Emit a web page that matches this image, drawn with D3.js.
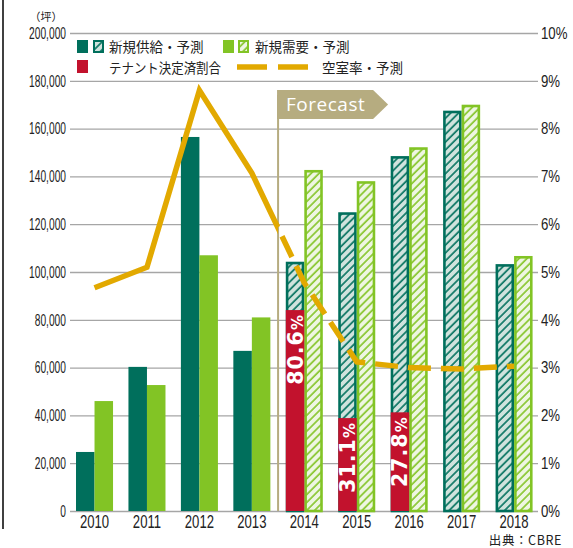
<!DOCTYPE html>
<html><head><meta charset="utf-8">
<script src="https://cdn.jsdelivr.net/npm/d3@7"></script>
<style>
html,body{margin:0;padding:0;background:#fff;}
svg{display:block;}
</style></head><body>
<svg id="chart" width="573" height="548"></svg>
<script>
// ---- data ----
const years = ["2010","2011","2012","2013","2014","2015","2016","2017","2018"];
const supply = [24700, 60300, 156500, 67000, 104300, 125000, 148500, 167500, 103300];
const demand = [46000, 52700, 107000, 81000, 142700, 138000, 152200, 170000, 106700];
const tenantShare = [null, null, null, null, 80.6, 31.1, 27.8, null, null];
const vacancy = [4.67, 5.1, 8.8, 7.07, 4.77, 3.12, 3.0, 2.97, 3.03];
const forecastStart = "2014";
const leftTicks = [0,20000,40000,60000,80000,100000,120000,140000,160000,180000,200000];
const rightTicks = [0,1,2,3,4,5,6,7,8,9,10];
const legendLabels = ["新規供給・予測","新規需要・予測","テナント決定済割合","空室率・予測"];
const unitLabel = "（坪）";
const sourceLabel = "出典：CBRE";
const forecastLabel = "Forecast";

// ---- styles ----
const C = {dark:"#006f5c", light:"#82c425", red:"#c2122d", orange:"#e2a900",
  darkHatchBg:"#d0e3dd", lightHatchBg:"#eef6e2", tan:"#b6ac80", grid:"#a6a6a6"};
const cond = "'Liberation Sans',Arial,sans-serif";
const jp = "'Noto Sans CJK JP','Noto Sans',sans-serif";

const svg = d3.select("#chart");
const W = 573, H = 548;
const x = d3.scaleBand().domain(years).range([68.3, 540.3]);
const yL = d3.scaleLinear().domain([0, 200000]).range([511, 33]);
const yR = d3.scaleLinear().domain([0, 10]).range([511, 33]);
const cx = d => x(d) + x.bandwidth()/2;
const barW = x.bandwidth()*0.353;
const fi = years.indexOf(forecastStart);
const xF = x(forecastStart);

// patterns
const defs = svg.append("defs");
function hatch(id, bg, fg){
  const p = defs.append("pattern").attr("id", id).attr("patternUnits","userSpaceOnUse")
    .attr("width", 5.6).attr("height", 5.6).attr("patternTransform","rotate(45)");
  p.append("rect").attr("width",5.6).attr("height",5.6).attr("fill",bg);
  p.append("line").attr("x1",1).attr("x2",1).attr("y1",0).attr("y2",5.6)
    .attr("stroke",fg).attr("stroke-width",1.6);
}
hatch("hDark", C.darkHatchBg, C.dark);
hatch("hLight", C.lightHatchBg, C.light);
defs.append("clipPath").attr("id","clipSolid").append("rect")
  .attr("x",0).attr("y",0).attr("width",xF).attr("height",H);
defs.append("clipPath").attr("id","clipDash").append("rect")
  .attr("x",xF).attr("y",0).attr("width",W-xF).attr("height",H);

// left frame line
svg.append("line").attr("x1",3).attr("x2",3).attr("y1",0).attr("y2",529)
  .attr("stroke","#000").attr("stroke-width",1.5);

// gridlines via axis
const grid = svg.append("g").attr("transform","translate(70,0)")
  .call(d3.axisLeft(yL).tickValues(leftTicks).tickSize(-468).tickFormat(""));
grid.select(".domain").remove();
grid.selectAll("line").attr("stroke",C.grid).attr("stroke-width",1.3);

// left labels
svg.append("g").selectAll("g").data(leftTicks).join("g")
  .attr("transform", d => `translate(66,${yL(d)})`)
  .append("text").attr("text-anchor","end").attr("dy","0.35em")
  .attr("transform","scale(0.62,1)")
  .attr("font-family", cond).attr("font-size",16.5).attr("fill","#222")
  .text(d => d3.format(",")(d));

// right labels
svg.append("g").selectAll("g").data(rightTicks).join("g")
  .attr("transform", d => `translate(541,${yR(d)})`)
  .append("text").attr("text-anchor","start").attr("dy","0.35em")
  .attr("transform","scale(0.8,1)")
  .attr("font-family", cond).attr("font-size",16.5).attr("fill","#222")
  .text(d => d + "%");

// year labels
svg.append("g").selectAll("g").data(years).join("g")
  .attr("transform", d => `translate(${cx(d)},528)`)
  .append("text").attr("text-anchor","middle")
  .attr("transform","scale(0.75,1)")
  .attr("font-family", cond).attr("font-size",17.5).attr("fill","#222")
  .text(d => d);

// bars
const sw = 2.6;
years.forEach((yr, i) => {
  const fc = i >= fi;
  const xd = cx(yr) - barW, xl = cx(yr);
  if (!fc) {
    svg.append("rect").attr("x",xd).attr("y",yL(supply[i])).attr("width",barW)
      .attr("height",yL(0)-yL(supply[i])).attr("fill",C.dark);
    svg.append("rect").attr("x",xl).attr("y",yL(demand[i])).attr("width",barW)
      .attr("height",yL(0)-yL(demand[i])).attr("fill",C.light);
  } else {
    svg.append("rect").attr("x",xd+sw/2).attr("y",yL(supply[i])+sw/2).attr("width",barW-sw)
      .attr("height",yL(0)-yL(supply[i])-sw/2).attr("fill","url(#hDark)")
      .attr("stroke",C.dark).attr("stroke-width",sw);
    svg.append("rect").attr("x",xl+sw/2).attr("y",yL(demand[i])+sw/2).attr("width",barW-sw)
      .attr("height",yL(0)-yL(demand[i])-sw/2).attr("fill","url(#hLight)")
      .attr("stroke",C.light).attr("stroke-width",sw);
  }
  if (tenantShare[i] != null) {
    const v = supply[i]*tenantShare[i]/100;
    svg.append("rect").attr("x",xd).attr("y",yL(v)).attr("width",barW)
      .attr("height",yL(0)-yL(v)).attr("fill",C.red);
    const t = svg.append("text")
      .attr("transform",`translate(${xd+barW/2+7.5},${yL(v)+4}) rotate(-90)`)
      .attr("text-anchor","end").attr("fill","#fff")
      .attr("font-family","'DejaVu Sans',sans-serif").attr("font-weight","bold")
      .attr("font-size",20.5).attr("letter-spacing",1);
    t.append("tspan").text(tenantShare[i].toFixed(1));
    t.append("tspan").attr("font-size",15).text("%");
  }
});

// forecast marker
svg.append("line").attr("x1",xF).attr("x2",xF).attr("y1",95).attr("y2",yL(0))
  .attr("stroke",C.tan).attr("stroke-width",2);
svg.append("polygon")
  .attr("points",[[xF-1,90],[xF+95,90],[xF+110,104.5],[xF+95,119],[xF-1,119]].map(p=>p.join(",")).join(" "))
  .attr("fill",C.tan);
svg.append("text").attr("x",xF+8).attr("y",111).attr("fill","#fff")
  .attr("font-family","'Open Sans',sans-serif").attr("font-size",19).attr("letter-spacing",0.5)
  .text(forecastLabel);

// vacancy line
const line = d3.line().x((d,i) => cx(years[i])).y(d => yR(d)).curve(d3.curveLinear);
svg.append("path").attr("d", line(vacancy)).attr("fill","none")
  .attr("stroke",C.orange).attr("stroke-width",5.5).attr("stroke-linejoin","miter")
  .attr("clip-path","url(#clipSolid)");
const line2 = d3.line().x((d,i) => cx(years[i+fi-1])).y(d => yR(d));
svg.append("path").attr("d", line2(vacancy.slice(fi-1))).attr("fill","none")
  .attr("stroke",C.orange).attr("stroke-width",5.5).attr("stroke-dasharray","23,10")
  .attr("stroke-dashoffset",-4)
  .attr("clip-path","url(#clipDash)");

// legend
const lg = svg.append("g");
const lfs = 13.5;
lg.append("rect").attr("x",77).attr("y",40).attr("width",11).attr("height",13).attr("fill",C.dark);
lg.append("rect").attr("x",94).attr("y",41).attr("width",9).attr("height",11)
  .attr("fill","url(#hDark)").attr("stroke",C.dark).attr("stroke-width",2);
lg.append("text").attr("x",109).attr("y",52).attr("font-family",jp).attr("font-size",lfs)
  .attr("fill","#222").text(legendLabels[0]);
lg.append("rect").attr("x",223).attr("y",40).attr("width",11).attr("height",13).attr("fill",C.light);
lg.append("rect").attr("x",239).attr("y",41).attr("width",9).attr("height",11)
  .attr("fill","url(#hLight)").attr("stroke",C.light).attr("stroke-width",2);
lg.append("text").attr("x",255).attr("y",52).attr("font-family",jp).attr("font-size",lfs)
  .attr("fill","#222").text(legendLabels[1]);
lg.append("rect").attr("x",77).attr("y",60).attr("width",11).attr("height",13).attr("fill",C.red);
lg.append("text").attr("x",109).attr("y",72.5).attr("font-family",jp).attr("font-size",lfs)
  .attr("textLength",112).attr("lengthAdjust","spacingAndGlyphs")
  .attr("fill","#222").text(legendLabels[2]);
lg.append("line").attr("x1",237).attr("x2",308).attr("y1",67).attr("y2",67)
  .attr("stroke",C.orange).attr("stroke-width",5.5).attr("stroke-dasharray","30,11");
lg.append("text").attr("x",322).attr("y",72.5).attr("font-family",jp).attr("font-size",lfs)
  .attr("fill","#222").text(legendLabels[3]);

// unit and source
svg.append("text").attr("x",46).attr("y",20.5).attr("text-anchor","middle")
  .attr("font-family",jp).attr("font-size",11).attr("fill","#222").text(unitLabel);
svg.append("text").attr("x",562).attr("y",545).attr("text-anchor","end")
  .attr("font-family",jp).attr("font-size",12.5).attr("letter-spacing",0.6)
  .attr("fill","#222").text(sourceLabel);
</script>
</body></html>
